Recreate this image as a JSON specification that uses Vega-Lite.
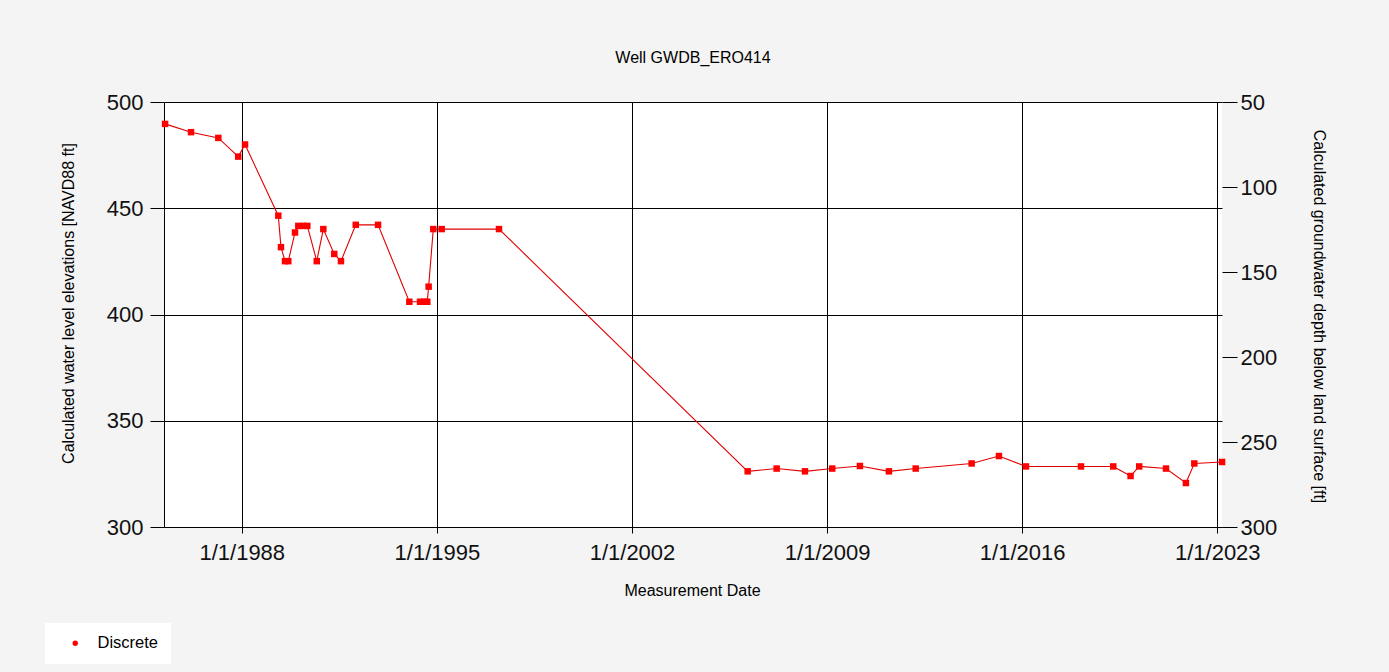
{
  "$schema": "https://vega.github.io/schema/vega-lite/v6.json",
  "autosize": {"type": "none"},
  "width": 1058,
  "height": 425,
  "padding": {"left": 164, "top": 102, "right": 167, "bottom": 145},
  "background": "#f4f4f4",
  "title": {
    "text": "Well GWDB_ERO414",
    "fontSize": 16,
    "font": "Liberation Sans",
    "fontWeight": "normal",
    "color": "#000000",
    "anchor": "middle",
    "offset": 25
  },
  "config": {
    "view": {"fill": "#ffffff", "stroke": null},
    "axis": {
      "labelFont": "Liberation Sans",
      "titleFont": "Liberation Sans",
      "labelFontSize": 22,
      "titleFontSize": 16,
      "titleFontWeight": "normal",
      "labelColor": "#111111",
      "titleColor": "#000000",
      "domainColor": "#000000",
      "tickColor": "#000000",
      "gridColor": "#000000",
      "gridOpacity": 1,
      "domainWidth": 1,
      "tickWidth": 1,
      "gridWidth": 1
    },
    "legend": {
      "labelFont": "Liberation Sans",
      "labelFontSize": 16.5,
      "labelColor": "#000000"
    }
  },
  "datasets": {
    "levels": [
      {"date": "1985-04-01", "elev": 489.7},
      {"date": "1986-03-07", "elev": 485.8},
      {"date": "1987-02-28", "elev": 483.1},
      {"date": "1987-11-16", "elev": 474.3},
      {"date": "1988-02-13", "elev": 480.0},
      {"date": "1989-04-24", "elev": 446.5},
      {"date": "1989-05-29", "elev": 431.7},
      {"date": "1989-07-21", "elev": 425.1},
      {"date": "1989-09-02", "elev": 425.1},
      {"date": "1989-11-29", "elev": 438.6},
      {"date": "1990-01-11", "elev": 441.7},
      {"date": "1990-03-17", "elev": 441.7},
      {"date": "1990-05-09", "elev": 441.7},
      {"date": "1990-09-10", "elev": 425.1},
      {"date": "1990-12-05", "elev": 440.2},
      {"date": "1991-04-27", "elev": 428.5},
      {"date": "1991-07-24", "elev": 425.1},
      {"date": "1992-02-03", "elev": 442.2},
      {"date": "1992-11-21", "elev": 442.2},
      {"date": "1994-01-05", "elev": 406.0},
      {"date": "1994-05-25", "elev": 406.0},
      {"date": "1994-07-20", "elev": 406.0},
      {"date": "1994-08-28", "elev": 406.0},
      {"date": "1994-09-15", "elev": 413.1},
      {"date": "1994-11-15", "elev": 440.2},
      {"date": "1995-03-05", "elev": 440.2},
      {"date": "1997-03-25", "elev": 440.2},
      {"date": "2006-02-25", "elev": 326.2},
      {"date": "2007-03-12", "elev": 327.5},
      {"date": "2008-03-17", "elev": 326.2},
      {"date": "2009-03-09", "elev": 327.5},
      {"date": "2010-03-07", "elev": 328.7},
      {"date": "2011-03-22", "elev": 326.2},
      {"date": "2012-03-07", "elev": 327.5},
      {"date": "2014-03-10", "elev": 329.9},
      {"date": "2015-03-03", "elev": 333.4},
      {"date": "2016-02-20", "elev": 328.5},
      {"date": "2018-02-10", "elev": 328.5},
      {"date": "2019-04-09", "elev": 328.5},
      {"date": "2019-11-22", "elev": 324.0},
      {"date": "2020-03-14", "elev": 328.5},
      {"date": "2021-02-28", "elev": 327.5},
      {"date": "2021-11-16", "elev": 320.7},
      {"date": "2022-03-06", "elev": 329.9},
      {"date": "2023-03-05", "elev": 330.6}
    ],
    "depthAxis": [
      {"depth": 50},
      {"depth": 300}
    ]
  },
  "encoding": {
    "x": {
      "field": "date",
      "type": "temporal",
      "scale": {
        "type": "utc",
        "domain": [
          {"year": 1985, "month": 3, "date": 18, "utc": true},
          {"year": 2023, "month": 3, "date": 4, "utc": true}
        ]
      },
      "axis": {
        "title": "Measurement Date",
        "format": "%-m/%-d/%Y",
        "values": [
          {"year": 1988, "month": 1, "date": 1, "utc": true},
          {"year": 1995, "month": 1, "date": 1, "utc": true},
          {"year": 2002, "month": 1, "date": 1, "utc": true},
          {"year": 2009, "month": 1, "date": 1, "utc": true},
          {"year": 2016, "month": 1, "date": 1, "utc": true},
          {"year": 2023, "month": 1, "date": 1, "utc": true}
        ],
        "grid": true,
        "tickSize": 6,
        "labelPadding": 9,
        "labelFlush": false,
        "labelOverlap": false,
        "titleX": 528,
        "titleY": 63,
        "titleBaseline": "middle",
        "titleAlign": "center"
      }
    }
  },
  "layer": [
    {
      "data": {"name": "levels"},
      "layer": [
        {
          "mark": {"type": "line", "color": "#e00000", "strokeWidth": 1.1},
          "encoding": {
            "y": {
              "field": "elev",
              "type": "quantitative",
              "scale": {"domain": [300, 500], "nice": false, "zero": false},
              "axis": {
                "title": "Calculated water level elevations [NAVD88 ft]",
                "values": [300, 350, 400, 450, 500],
                "grid": true,
                "tickSize": 14,
                "labelPadding": 7,
                "titleAngle": -90,
                "titleX": -96,
                "titleY": 201,
                "titleAlign": "center",
                "titleBaseline": "middle"
              }
            }
          }
        },
        {
          "mark": {"type": "point", "shape": "square", "filled": true, "size": 42, "opacity": 1},
          "encoding": {
            "y": {"field": "elev", "type": "quantitative"},
            "color": {
              "datum": "Discrete",
              "type": "nominal",
              "scale": {"range": ["#ff0000"]},
              "legend": {
                "title": null,
                "orient": "none",
                "legendX": -119,
                "legendY": 521,
                "fillColor": "#ffffff",
                "padding": 12,
                "symbolType": "circle",
                "symbolSize": 28,
                "symbolOffset": 10,
                "labelOffset": 14
              }
            }
          }
        }
      ]
    },
    {
      "data": {"name": "depthAxis"},
      "mark": {"type": "point", "opacity": 0},
      "encoding": {
        "x": {"value": 0},
        "y": {
          "field": "depth",
          "type": "quantitative",
          "scale": {"domain": [50, 300], "reverse": true, "nice": false, "zero": false},
          "axis": {
            "orient": "right",
            "title": "Calculated groundwater depth below land surface [ft]",
            "values": [50, 100, 150, 200, 250, 300],
            "grid": false,
            "domain": false,
            "tickSize": 15,
            "labelPadding": 3,
            "titleAngle": 90,
            "titleX": 96,
            "titleY": 214,
            "titleAlign": "center",
            "titleBaseline": "middle"
          }
        }
      }
    }
  ],
  "resolve": {"scale": {"y": "independent"}, "axis": {"y": "independent"}}
}
